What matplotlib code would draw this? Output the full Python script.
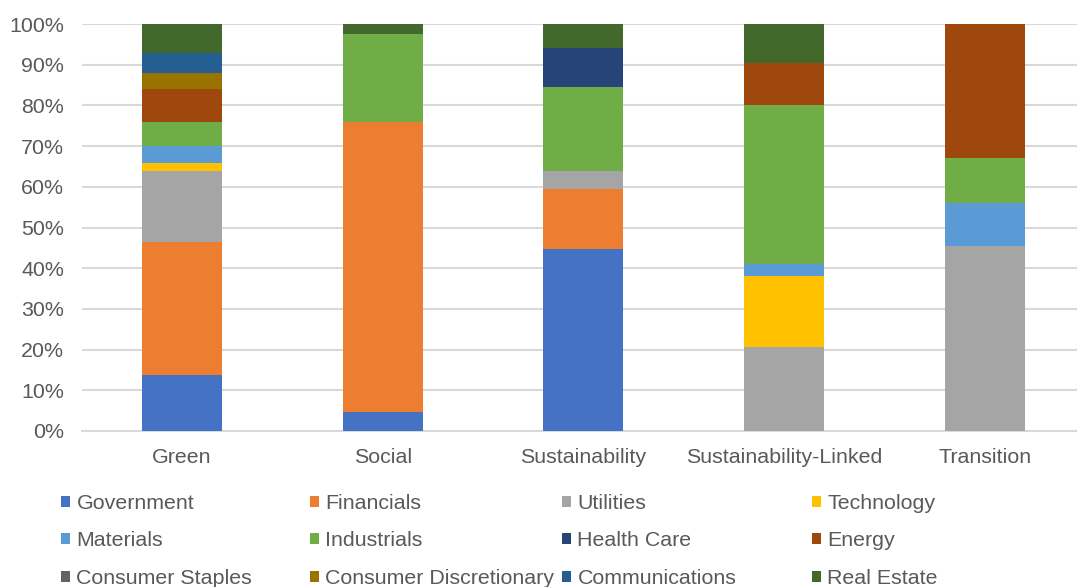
import matplotlib.pyplot as plt
import numpy as np

plt.rcParams['font.family'] = ['Liberation Sans', 'DejaVu Sans']

# Share of issuance by sector for each bond label (percent)
categories = ['Green', 'Social', 'Sustainability', 'Sustainability-Linked', 'Transition']
government = [13.8, 4.7, 44.6, 0, 0]
financials = [32.6, 71.2, 14.8, 0, 0]
utilities = [17.4, 0, 4.5, 20.7, 45.5]
technology = [2.0, 0, 0, 17.4, 0]
materials = [4.3, 0, 0, 2.9, 10.6]
industrials = [5.7, 21.6, 20.7, 39.0, 10.9]
health_care = [0, 0, 9.6, 0, 0]
energy = [8.2, 0, 0, 10.3, 33.0]
consumer_staples = [0, 0, 0, 0, 0]
consumer_discretionary = [3.9, 0, 0, 0, 0]
communications = [4.9, 0, 0, 0, 0]
real_estate = [7.2, 2.5, 5.8, 9.7, 0]

sectors = [
    ('Government', government, '#4472C4'),
    ('Financials', financials, '#ED7D31'),
    ('Utilities', utilities, '#A5A5A5'),
    ('Technology', technology, '#FFC000'),
    ('Materials', materials, '#5B9BD5'),
    ('Industrials', industrials, '#70AD47'),
    ('Health Care', health_care, '#264478'),
    ('Energy', energy, '#9E480E'),
    ('Consumer Staples', consumer_staples, '#636363'),
    ('Consumer Discretionary', consumer_discretionary, '#997300'),
    ('Communications', communications, '#255E91'),
    ('Real Estate', real_estate, '#43682B'),
]

text_color = '#595959'
grid_color = '#D9D9D9'
fs = 15.4

fig = plt.figure(figsize=(10.77, 5.87), dpi=100)
ax = fig.add_axes([81.6 / 1077, 156 / 587, 1003.5 / 1077, 407 / 587])

x = np.arange(len(categories))
bottom = np.zeros(len(categories))
handles = []
for name, values, color in sectors:
    vals = np.array(values, dtype=float)
    bars = ax.bar(x, vals, width=0.4, bottom=bottom, color=color, label=name, zorder=3)
    bottom += vals
    handles.append(bars)

ax.set_xlim(-0.5, len(categories) - 0.5)
ax.set_ylim(0, 100)
ax.set_yticks(range(0, 101, 10))
ax.set_yticklabels([f'{v}%' for v in range(0, 101, 10)])
ax.set_xticks(x)
ax.set_xticklabels(categories)
ax.tick_params(axis='y', length=0, pad=12.5, labelsize=fs, labelcolor=text_color)
ax.tick_params(axis='x', length=0, pad=12, labelsize=fs, labelcolor=text_color)
ax.yaxis.grid(True, color=grid_color, linewidth=1.5, zorder=0)
ax.set_axisbelow(True)
for side in ['top', 'right', 'left']:
    ax.spines[side].set_visible(False)
ax.spines['bottom'].set_color(grid_color)
ax.spines['bottom'].set_linewidth(1.5)

# Legend laid out as four fixed-width columns under the plot
col_x = [61, 310, 562, 812]
for c in range(4):
    idx = [c, c + 4, c + 8]
    leg = fig.legend([handles[i] for i in idx], [sectors[i][0] for i in idx],
                     loc='upper left', bbox_to_anchor=(col_x[c] / 1077, 1 - 494 / 587),
                     frameon=False, fontsize=fs, borderpad=0, borderaxespad=0,
                     handlelength=0.42, handleheight=0.42, handletextpad=0.3,
                     labelspacing=0.86)
    for t in leg.get_texts():
        t.set_color(text_color)

fig.savefig('out.png', dpi=100)
